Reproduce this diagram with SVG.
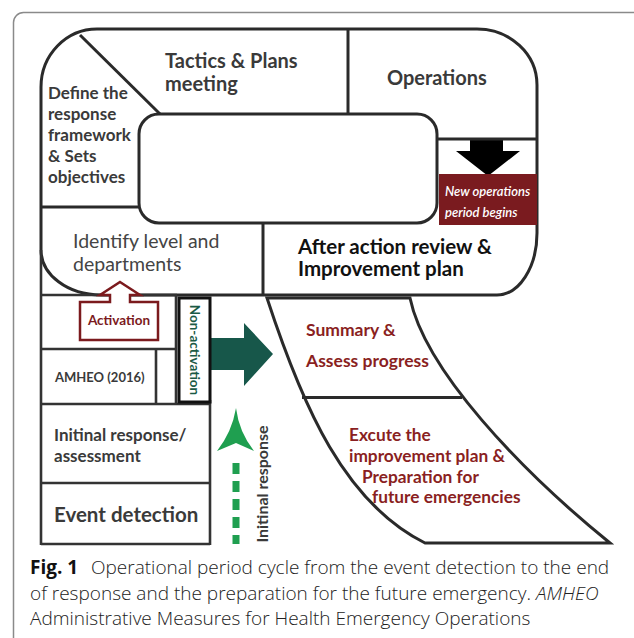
<svg xmlns="http://www.w3.org/2000/svg" width="634" height="638" viewBox="0 0 634 638">
<style>
  .lbl{font-family:Lato,"Liberation Sans",sans-serif;font-weight:bold;fill:#3a3a3a}
  .red{fill:#8a1f22}
  .ln{stroke:#2a2a2a;stroke-width:3;fill:none}
  .thin{stroke:#333;stroke-width:2.6;fill:none}
  .cap{font-family:"Open Sans","Liberation Sans",sans-serif;font-size:19px;fill:#222;font-weight:300}
</style>
<rect width="634" height="638" fill="#fff"/>
<!-- outer frame -->
<rect x="13.5" y="12.5" width="630" height="640" rx="10" fill="none" stroke="#8a8a8a" stroke-width="1.5"/>

<g id="connectors">
  <!-- green non-activation arrow -->
  <path d="M210,338 L244,338 L244,323 L273,354 L244,386 L244,370 L210,370 Z" fill="#17574a"/>
  <!-- initial response dashed arrow -->
  <line x1="236" y1="463" x2="236" y2="544" stroke="#1f9f50" stroke-width="7" stroke-dasharray="11 7"/>
  <path d="M236,408 Q239,432 254,451 L236,443 L217,451 Q232,432 236,408 Z" fill="#1f9f50"/>
  <!-- new operations arrow -->
  <path d="M470,139 L503,139 L503,151 L520,151 L488,176 L456,151 L470,151 Z" fill="#000"/>
</g>

<g id="cycle">
  <path class="ln" d="M97,29 L477,29 A60,56 0 0 1 537,85 L537,233 A40,62 0 0 1 497,295 L101,295 A60,45 0 0 1 41,250 L41,87 A56,58 0 0 1 97,29 Z"/>
  <rect class="ln" x="139" y="114" width="298" height="109" rx="20"/>
  <line class="ln" x1="80" y1="35" x2="160" y2="114"/>
  <line class="ln" x1="348" y1="29" x2="348" y2="114"/>
  <line class="ln" x1="437" y1="139" x2="537" y2="139"/>
  <line class="ln" x1="41" y1="207" x2="139" y2="207"/>
  <line class="ln" x1="263" y1="223" x2="263" y2="295"/>
</g>

<g id="new-operations">
  <rect x="439" y="174" width="98" height="51" fill="#7a1b1f"/>
  <text font-family="Lato,'Liberation Sans',sans-serif" font-style="italic" font-weight="600" font-size="13" fill="#fff"><tspan x="445" y="196">New operations</tspan><tspan x="445" y="217">period begins</tspan></text>
</g>

<g id="tactics"><text class="lbl" font-size="20"><tspan x="165" y="68">Tactics &amp; Plans</tspan><tspan x="165" y="91">meeting</tspan></text></g>
<g id="operations"><text class="lbl" font-size="20" x="387" y="85">Operations</text></g>
<g id="define"><text class="lbl" font-size="17"><tspan x="48" y="99">Define the</tspan><tspan x="48" y="120">response</tspan><tspan x="48" y="141">framework</tspan><tspan x="48" y="162">&amp; Sets</tspan><tspan x="48" y="183">objectives</tspan></text></g>
<g id="identify"><text font-family="Lato,'Liberation Sans',sans-serif" font-size="19.5" fill="#444"><tspan x="73" y="248">Identify level and</tspan><tspan x="73" y="271">departments</tspan></text></g>
<g id="after-action"><text class="lbl" font-size="20.5" style="fill:#111"><tspan x="298" y="254">After action review &amp;</tspan><tspan x="298" y="276">Improvement plan</tspan></text></g>

<g id="stack">
  <line class="thin" x1="41" y1="250" x2="41" y2="545"/>
  <line class="thin" x1="41" y1="295" x2="177" y2="295"/>
  <line class="thin" x1="41" y1="349" x2="177" y2="349"/>
  <line class="thin" x1="156" y1="349" x2="156" y2="404"/>
  <line class="thin" x1="176" y1="295" x2="176" y2="404"/>
  <line class="thin" x1="41" y1="404" x2="210" y2="404"/>
  <line class="thin" x1="210" y1="400" x2="210" y2="545"/>
  <line class="thin" x1="41" y1="483" x2="210" y2="483"/>
  <line class="thin" x1="41" y1="544" x2="210" y2="544"/>
</g>

<g id="activation">
  <path d="M120,282 L140,295 L130,295 L130,302 L158,302 L158,340 L80,340 L80,302 L110,302 L110,295 L100,295 Z" fill="#fff" stroke="#7b1a1d" stroke-width="2.5"/>
  <text class="lbl red" font-size="13.5" x="119" y="325" text-anchor="middle" style="fill:#7b1a1d">Activation</text>
</g>
<g id="non-activation">
  <rect x="179" y="298" width="31" height="104" fill="#fff" stroke="#111" stroke-width="3"/>
  <text class="lbl" font-size="13.5" text-anchor="middle" transform="translate(189.5,350) rotate(90)" style="fill:#1b5a46">Non-activation</text>
</g>
<g id="amheo"><text class="lbl" font-size="13" x="55" y="382">AMHEO (2016)</text></g>
<g id="initial-assessment"><text class="lbl" font-size="17"><tspan x="54" y="441">Initinal response/</tspan><tspan x="54" y="462">assessment</tspan></text></g>
<g id="event-detection"><text class="lbl" font-size="20.5" x="54" y="522">Event detection</text></g>
<g id="initial-response-label"><text class="lbl" font-size="16" text-anchor="middle" transform="translate(268,484) rotate(-90)">Initinal response</text></g>

<g id="summary">
  <path class="ln" d="M267,298 L410,298 C425,370 520,470 610,543 L425,543 C345,503 303,408 267,298 Z"/>
  <line class="ln" x1="302" y1="397.5" x2="462" y2="397.5"/>
  <text class="lbl red" font-size="17.5"><tspan x="306" y="336">Summary &amp;</tspan><tspan x="306" y="367">Assess progress</tspan></text>
  <text class="lbl red" font-size="17.3"><tspan x="349" y="441">Excute the</tspan><tspan x="349" y="462">improvement plan &amp;</tspan><tspan x="362" y="483">Preparation for</tspan><tspan x="372" y="503">future emergencies</tspan></text>
</g>

<g id="caption">
  <text class="cap" x="30" y="574" style="font-weight:bold;fill:#111">Fig. 1</text>
  <text class="cap" x="91" y="574">Operational period cycle from the event detection to the end</text>
  <text class="cap" x="30" y="600">of response and the preparation for the future emergency. <tspan font-style="italic">AMHEO</tspan></text>
  <text class="cap" x="30" y="625">Administrative Measures for Health Emergency Operations</text>
</g>
</svg>
